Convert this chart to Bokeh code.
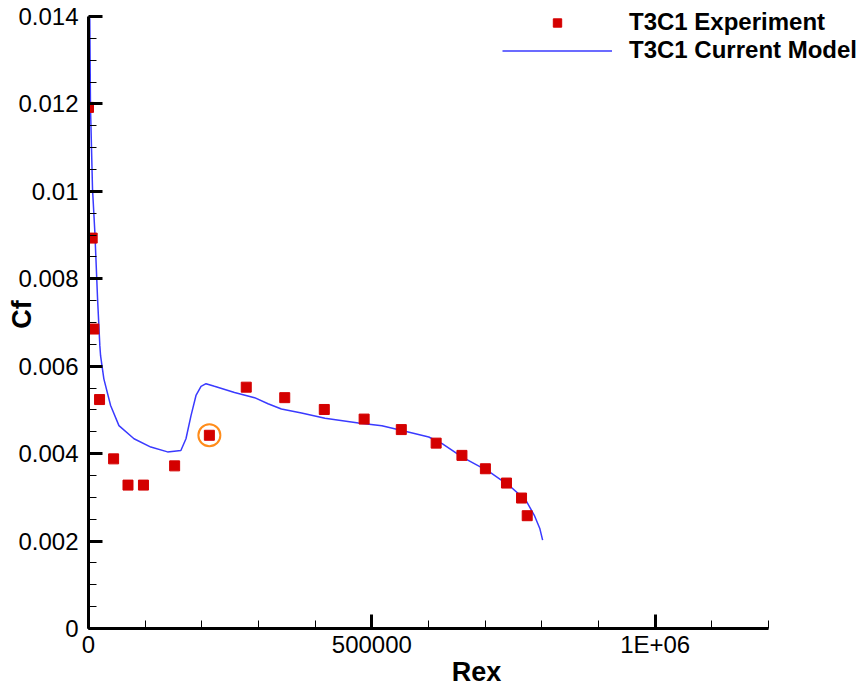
from bokeh.plotting import figure
from bokeh.models import (Range1d, FixedTicker, Legend, LegendItem, ColumnDataSource)
from bokeh.embed import file_html
from bokeh.resources import INLINE

# ---- data ----
exp_x = [0, 6500, 9400, 19500, 44300, 69700, 97000, 152000, 213300, 278400,
         346300, 416100, 486400, 552000, 613500, 659000, 700400, 737600, 764200, 774200]
exp_y = [0.01192, 0.00893, 0.00685, 0.005237, 0.00388, 0.00328, 0.00328, 0.00372, 0.00442, 0.00552,
         0.00528, 0.00501, 0.00479, 0.00455, 0.00424, 0.00396, 0.003654, 0.003327, 0.002984, 0.00258]
highlight_index = 8

model_x = [1500, 2300, 3500, 7100, 11200, 16000, 20000, 21300, 27100, 39000, 53700, 80300,
           110000, 139500, 163000, 172000, 180900, 189700, 198600, 207400, 222200, 257700,
           293100, 316800, 340400, 375900, 417300, 476400, 517700, 553200, 600500, 624100,
           659600, 706900, 742400, 771900, 786700, 796600, 801400]
model_y = [0.0140, 0.01393, 0.01194, 0.01005, 0.00907, 0.00754, 0.00647, 0.00624, 0.00571,
           0.0051, 0.00464, 0.00434, 0.00415, 0.00404, 0.00407, 0.00434, 0.00487, 0.00533,
           0.00554, 0.00560, 0.00554, 0.0054, 0.00528, 0.00514, 0.00502, 0.00493, 0.00481,
           0.0047, 0.00464, 0.00453, 0.00438, 0.00423, 0.00392, 0.00359, 0.00327, 0.00293,
           0.00259, 0.00228, 0.00202]

x_axis_end = 1200000
y_axis_end = 0.014
x_major = [0, 500000, 1000000]
x_major_labels = ["0", "500000", "1E+06"]
x_minor = [100000 * i for i in range(13)]
y_major = [0, 0.002, 0.004, 0.006, 0.008, 0.010, 0.012, 0.014]
y_major_labels = ["0", "0.002", "0.004", "0.006", "0.008", "0.01", "0.012", "0.014"]
y_minor = [0.0005 * i for i in range(29)]

FONT = "Liberation Sans"

# frame: left 88, right 864 (axis ends at 768), top 0 (axis ends at 16), bottom 630
x_view_end = x_axis_end * 776 / 680
y_view_end = y_axis_end * 630 / 614

p = figure(width=864, height=689, output_backend="svg", toolbar_location=None,
           x_range=Range1d(0, x_view_end), y_range=Range1d(0, y_view_end),
           min_border_left=88, min_border_right=0, min_border_top=0, min_border_bottom=59)
p.outline_line_color = None
p.xgrid.visible = False
p.ygrid.visible = False
p.background_fill_color = "white"
p.border_fill_color = "white"

for ax, major, labels, minor, name, end in [
        (p.xaxis[0], x_major, x_major_labels, x_minor, "Rex", x_axis_end),
        (p.yaxis[0], y_major, y_major_labels, y_minor, "Cf", y_axis_end)]:
    ax.ticker = FixedTicker(ticks=major, minor_ticks=minor)
    ax.bounds = (0, end)
    ax.major_label_overrides = {v: l for v, l in zip(major, labels)}
    ax.axis_line_width = 3
    ax.axis_line_color = "black"
    ax.major_tick_line_width = 3
    ax.major_tick_in = 14
    ax.major_tick_out = 0
    ax.minor_tick_line_width = 1
    ax.minor_tick_in = 8
    ax.minor_tick_out = 0
    ax.major_label_text_font = FONT
    ax.major_label_text_font_size = "24px"
    ax.major_label_text_color = "black"
    ax.axis_label = name
    ax.axis_label_text_font = FONT
    ax.axis_label_text_font_size = "27px"
    ax.axis_label_text_font_style = "bold"
    ax.axis_label_text_color = "black"

p.xaxis.major_label_standoff = 2
p.xaxis.axis_label_standoff = -4
p.yaxis.major_label_standoff = 10
p.yaxis.axis_label_standoff = -22

src_exp = ColumnDataSource(dict(x=exp_x, y=exp_y))
src_model = ColumnDataSource(dict(x=model_x, y=model_y))

line_r = p.line("x", "y", source=src_model, line_color="#3a3aff", line_width=1.5)
sq_r = p.scatter("x", "y", source=src_exp, marker="square", size=10,
                 fill_color="#d40000", line_color="#d40000")
p.scatter([exp_x[highlight_index]], [exp_y[highlight_index]], marker="circle", size=22,
          fill_color=None, line_color="#ff8c1a", line_width=2)

legend = Legend(items=[LegendItem(label="T3C1 Experiment", renderers=[sq_r]),
                       LegendItem(label="T3C1 Current Model", renderers=[line_r])],
                location=(414, 564), orientation="vertical",
                glyph_width=110, glyph_height=21, label_height=28, spacing=0,
                label_standoff=17, padding=0, margin=0,
                label_text_font=FONT, label_text_font_size="24px",
                label_text_font_style="bold", label_text_color="black",
                border_line_alpha=0, background_fill_alpha=0)
p.add_layout(legend, "center")

open("out.html", "w").write(file_html(p, INLINE))
